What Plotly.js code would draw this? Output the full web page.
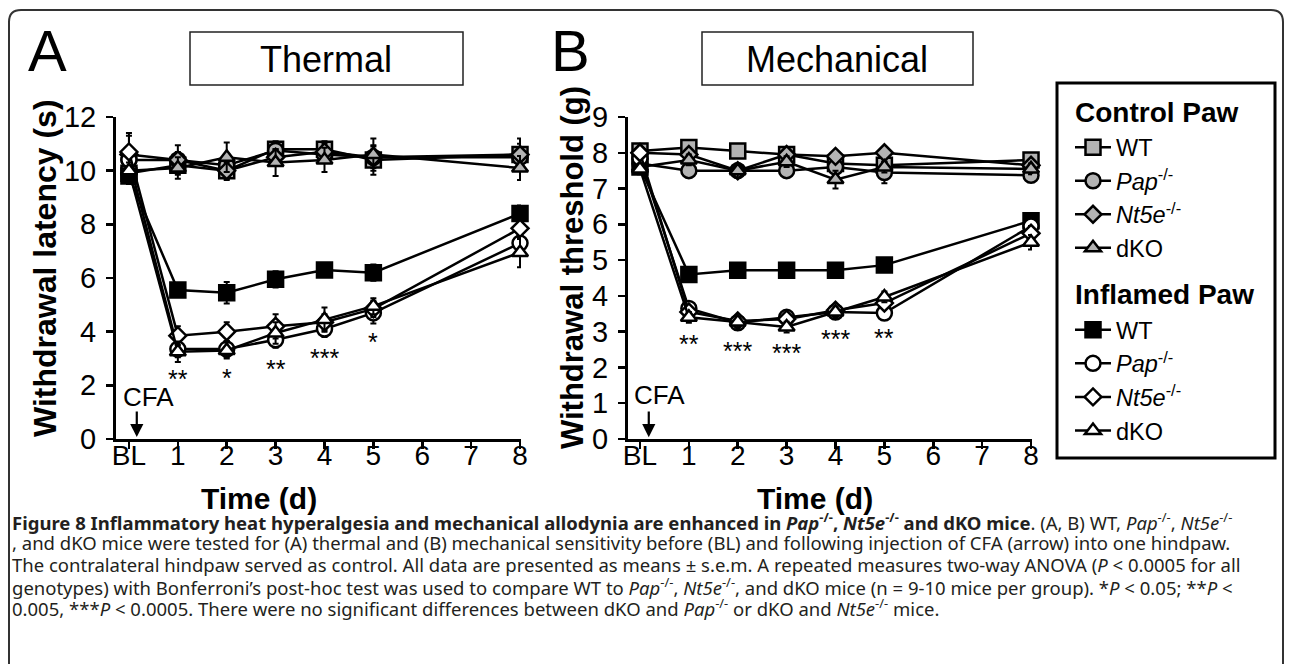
<!DOCTYPE html>
<html>
<head>
<meta charset="utf-8">
<script src="https://cdn.plot.ly/plotly-3.0.1.min.js"></script>
<style>html,body{margin:0;padding:0;background:#fff;}#chart{width:1290px;height:664px;}</style>
</head>
<body>
<div id="chart"></div>
<script>
// ---------------- DATA ----------------
const days = [0, 1, 2, 3, 4, 5, 8];
const tickVals = [0, 1, 2, 3, 4, 5, 6, 7, 8];
const tickLabels = ['BL', '1', '2', '3', '4', '5', '6', '7', '8'];
const groupNames = ['WT', '<i>Pap</i><sup>-/-</sup>', '<i>Nt5e</i><sup>-/-</sup>', 'dKO'];

// Panel A: thermal withdrawal latency (s)
const thermCtrlWT   = [9.9, 10.2, 10.0, 10.8, 10.8, 10.4, 10.6];
const thermCtrlPap  = [10.4, 10.4, 10.2, 10.75, 10.6, 10.5, 10.5];
const thermCtrlNt5e = [10.6, 10.4, 10.0, 10.5, 10.7, 10.5, 10.6];
const thermCtrlDKO  = [10.0, 10.1, 10.5, 10.3, 10.4, 10.6, 10.1];
const thermInfWT    = [9.8, 5.55, 5.45, 5.95, 6.3, 6.2, 8.4];
const thermInfPap   = [10.4, 3.35, 3.35, 3.7, 4.1, 4.7, 7.3];
const thermInfNt5e  = [10.7, 3.85, 4.0, 4.2, 4.35, 4.85, 7.85];
const thermInfDKO   = [10.0, 3.25, 3.3, 3.95, 4.45, 4.95, 6.95];
const thermCtrlWTErr   = [0.3, 0.3, 0.35, 0.3, 0.3, 0.55, 0.6];
const thermCtrlPapErr  = [0.3, 0.3, 0.3, 0.3, 0.3, 0.3, 0.3];
const thermCtrlNt5eErr = [0.7, 0.55, 0.3, 0.3, 0.3, 0.4, 0.4];
const thermCtrlDKOErr  = [0.3, 0.4, 0.55, 0.5, 0.45, 0.6, 0.45];
const thermInfWTErr    = [0.3, 0.25, 0.4, 0.3, 0.25, 0.3, 0.3];
const thermInfPapErr   = [0.3, 0.3, 0.3, 0.3, 0.3, 0.4, 0.45];
const thermInfNt5eErr  = [0.7, 0.35, 0.35, 0.45, 0.3, 0.3, 0.4];
const thermInfDKOErr   = [0.3, 0.38, 0.3, 0.4, 0.45, 0.3, 0.55];

// Panel B: mechanical withdrawal threshold (g)
const mechCtrlWT   = [8.05, 8.15, 8.05, 7.95, 7.7, 7.65, 7.8];
const mechCtrlPap  = [7.7, 7.5, 7.5, 7.5, 7.6, 7.45, 7.37];
const mechCtrlNt5e = [8.0, 7.95, 7.5, 7.95, 7.9, 8.0, 7.65];
const mechCtrlDKO  = [7.6, 7.8, 7.5, 7.75, 7.25, 7.6, 7.55];
const mechInfWT    = [7.6, 4.6, 4.72, 4.72, 4.72, 4.86, 6.1];
const mechInfPap   = [7.85, 3.65, 3.25, 3.4, 3.55, 3.52, 5.95];
const mechInfNt5e  = [8.0, 3.55, 3.3, 3.35, 3.6, 3.8, 5.75];
const mechInfDKO   = [7.55, 3.4, 3.27, 3.13, 3.55, 3.97, 5.5];
const mechCtrlWTErr   = [0.15, 0.15, 0.15, 0.15, 0.15, 0.15, 0.15];
const mechCtrlPapErr  = [0.15, 0.15, 0.15, 0.15, 0.15, 0.3, 0.15];
const mechCtrlNt5eErr = [0.15, 0.15, 0.15, 0.15, 0.15, 0.15, 0.15];
const mechCtrlDKOErr  = [0.15, 0.15, 0.2, 0.15, 0.25, 0.15, 0.15];
const mechInfWTErr    = [0.15, 0.15, 0.1, 0.1, 0.1, 0.1, 0.15];
const mechInfPapErr   = [0.15, 0.15, 0.15, 0.15, 0.15, 0.15, 0.2];
const mechInfNt5eErr  = [0.15, 0.15, 0.15, 0.15, 0.15, 0.15, 0.2];
const mechInfDKOErr   = [0.15, 0.15, 0.15, 0.15, 0.15, 0.15, 0.2];

// significance marks (x day, y position in data units, label)
const thermStarX = [1, 2, 3, 4, 5];
const thermStarY = [2.45, 2.5, 2.84, 3.25, 3.84];
const thermStarText = ['**', '*', '**', '***', '*'];
const mechStarX = [1, 2, 3, 4, 5];
const mechStarY = [2.82, 2.63, 2.57, 2.96, 2.99];
const mechStarText = ['**', '***', '***', '***', '**'];

// ---------------- STYLE ----------------
const W = 1290, H = 664;
const px = v => v / W;
const py = v => 1 - v / H;
const GRAY = '#b3b3b3';
const FONT = 'Liberation Sans, Arial, sans-serif';
const symbols = ['square', 'circle', 'diamond', 'triangle-up'];
const sizes = [15, 15, 13, 14];

function mk(x, y, err, i, fill, xa, ya, group, groupTitle, showlegend) {
  return {
    x: x, y: y, xaxis: xa, yaxis: ya, type: 'scatter', mode: 'lines+markers',
    name: groupNames[i], legendgroup: group,
    legendgrouptitle: {text: groupTitle, font: {family: FONT, size: 28, color: '#000'}},
    showlegend: showlegend,
    line: {color: '#000', width: 2.5},
    marker: {symbol: symbols[i], size: sizes[i], color: fill, line: {color: '#000', width: 2.5}},
    error_y: {type: 'data', array: err, visible: true, color: '#000', thickness: 2, width: 3},
    cliponaxis: false, hoverinfo: 'x+y'
  };
}

const ctrlT = '<b>Control Paw</b>', infT = '<b>Inflamed Paw</b>';
const infFill = ['#000', '#fff', '#fff', '#fff'];
const traces = [
  mk(days, thermCtrlWT, thermCtrlWTErr, 0, GRAY, 'x', 'y', 'ctrl', ctrlT, true),
  mk(days, thermCtrlPap, thermCtrlPapErr, 1, GRAY, 'x', 'y', 'ctrl', ctrlT, true),
  mk(days, thermCtrlNt5e, thermCtrlNt5eErr, 2, GRAY, 'x', 'y', 'ctrl', ctrlT, true),
  mk(days, thermCtrlDKO, thermCtrlDKOErr, 3, GRAY, 'x', 'y', 'ctrl', ctrlT, true),
  mk(days, thermInfWT, thermInfWTErr, 0, infFill[0], 'x', 'y', 'inf', infT, true),
  mk(days, thermInfPap, thermInfPapErr, 1, infFill[1], 'x', 'y', 'inf', infT, true),
  mk(days, thermInfNt5e, thermInfNt5eErr, 2, infFill[2], 'x', 'y', 'inf', infT, true),
  mk(days, thermInfDKO, thermInfDKOErr, 3, infFill[3], 'x', 'y', 'inf', infT, true),
  mk(days, mechCtrlWT, mechCtrlWTErr, 0, GRAY, 'x2', 'y2', 'ctrl', ctrlT, false),
  mk(days, mechCtrlPap, mechCtrlPapErr, 1, GRAY, 'x2', 'y2', 'ctrl', ctrlT, false),
  mk(days, mechCtrlNt5e, mechCtrlNt5eErr, 2, GRAY, 'x2', 'y2', 'ctrl', ctrlT, false),
  mk(days, mechCtrlDKO, mechCtrlDKOErr, 3, GRAY, 'x2', 'y2', 'ctrl', ctrlT, false),
  mk(days, mechInfWT, mechInfWTErr, 0, infFill[0], 'x2', 'y2', 'inf', infT, false),
  mk(days, mechInfPap, mechInfPapErr, 1, infFill[1], 'x2', 'y2', 'inf', infT, false),
  mk(days, mechInfNt5e, mechInfNt5eErr, 2, infFill[2], 'x2', 'y2', 'inf', infT, false),
  mk(days, mechInfDKO, mechInfDKOErr, 3, infFill[3], 'x2', 'y2', 'inf', infT, false)
];

function xAxis(dom, range, anchor) {
  return {
    domain: dom, range: range, anchor: anchor, tickmode: 'array', tickvals: tickVals, ticktext: tickLabels,
    showline: true, linecolor: '#000', linewidth: 3, ticks: 'outside', ticklen: 7, tickwidth: 2.5,
    tickcolor: '#000', showgrid: false, zeroline: false, ticklabelstandoff: -18,
    tickfont: {family: FONT, size: 28, color: '#000'}, fixedrange: true
  };
}
function yAxis(dom, range, dtick, anchor) {
  return {
    domain: dom, range: range, anchor: anchor, dtick: dtick, tick0: 0,
    showline: true, linecolor: '#000', linewidth: 3, ticks: 'outside', ticklen: 7, tickwidth: 2.5,
    tickcolor: '#000', showgrid: false, zeroline: false, ticklabelstandoff: 4,
    tickfont: {family: FONT, size: 29, color: '#000'}, fixedrange: true
  };
}

const ann = [];
function txt(x, y, text, size, opts) {
  return Object.assign({xref: 'paper', yref: 'paper', x: px(x), y: py(y), text: text, showarrow: false,
    font: {family: FONT, size: size, color: '#000'}, xanchor: 'center', yanchor: 'middle'}, opts || {});
}
ann.push(txt(47, 50, 'A', 58));
ann.push(txt(570, 50, 'B', 58));
ann.push(txt(326, 59, 'Thermal', 36));
ann.push(txt(837, 59, 'Mechanical', 36));
ann.push(txt(45, 268, '<b>Withdrawal latency (s)</b>', 32, {textangle: -90}));
ann.push(txt(572, 268, '<b>Withdrawal threshold (g)</b>', 31, {textangle: -90}));
const narrowBold = {family: 'Liberation Sans Narrow, Liberation Sans, Arial', size: 30, color: '#000'};
ann.push(txt(259, 498, '<b>Time (d)</b>', 30, {font: narrowBold}));
ann.push(txt(815, 498, '<b>Time (d)</b>', 30, {font: narrowBold}));

// CFA arrows
ann.push({xref: 'x', yref: 'y', x: 0.4, y: 1.57, text: 'CFA', showarrow: false, font: {family: FONT, size: 26, color: '#000'}});
ann.push({xref: 'x', yref: 'y', axref: 'x', ayref: 'y', x: 0.16, y: 0.07, ax: 0.16, ay: 1.08, text: '', showarrow: true,
  arrowhead: 2, arrowsize: 1.2, arrowwidth: 2.2, arrowcolor: '#000'});
ann.push({xref: 'x2', yref: 'y2', x: 0.39, y: 1.23, text: 'CFA', showarrow: false, font: {family: FONT, size: 26, color: '#000'}});
ann.push({xref: 'x2', yref: 'y2', axref: 'x2', ayref: 'y2', x: 0.18, y: 0.05, ax: 0.18, ay: 0.81, text: '', showarrow: true,
  arrowhead: 2, arrowsize: 1.2, arrowwidth: 2.2, arrowcolor: '#000'});

// significance stars
thermStarX.forEach((d, i) => ann.push({xref: 'x', yref: 'y', x: d, y: thermStarY[i], text: thermStarText[i], showarrow: false,
  yshift: -6, font: {family: FONT, size: 25, color: '#000'}}));
mechStarX.forEach((d, i) => ann.push({xref: 'x2', yref: 'y2', x: d, y: mechStarY[i], text: mechStarText[i], showarrow: false,
  yshift: -6, font: {family: FONT, size: 25, color: '#000'}}));

// caption
const capFont = {family: 'Noto Sans, Open Sans, sans-serif', size: 18.5, color: '#231f20'};
const PAP = '<i>Pap</i><sup>-/-</sup>', NT = '<i>Nt5e</i><sup>-/-</sup>';
const captionLines = [
  '<b>Figure 8 Inflammatory heat hyperalgesia and mechanical allodynia are enhanced in ' + PAP + ', ' + NT + ' and dKO mice</b>. (A, B) WT, ' + PAP + ', ' + NT,
  ', and dKO mice were tested for (A) thermal and (B) mechanical sensitivity before (BL) and following injection of CFA (arrow) into one hindpaw.',
  'The contralateral hindpaw served as control. All data are presented as means ± s.e.m. A repeated measures two-way ANOVA (<i>P</i> &lt; 0.0005 for all',
  'genotypes) with Bonferroni\u2019s post-hoc test was used to compare WT to ' + PAP + ', ' + NT + ', and dKO mice (n = 9-10 mice per group). *<i>P</i> &lt; 0.05; **<i>P</i> &lt;',
  '0.005, ***<i>P</i> &lt; 0.0005. There were no significant differences between dKO and ' + PAP + ' or dKO and ' + NT + ' mice.'
];
const capY = [521, 542, 564, 586, 607];
captionLines.forEach((t, i) => ann.push(txt(10, capY[i], t, 18.5, {xanchor: 'left', font: capFont})));

const shapes = [
  {type: 'path', xref: 'paper', yref: 'paper',
   path: `M ${px(9)} ${py(670)} L ${px(9)} ${py(22)} Q ${px(9)} ${py(10)} ${px(21)} ${py(10)} L ${px(1271)} ${py(10)} Q ${px(1283)} ${py(10)} ${px(1283)} ${py(22)} L ${px(1283)} ${py(670)}`,
   line: {color: '#333', width: 2}},
  {type: 'rect', xref: 'paper', yref: 'paper', x0: px(190), x1: px(463), y0: py(85), y1: py(32), line: {color: '#222', width: 1.5}},
  {type: 'rect', xref: 'paper', yref: 'paper', x0: px(702), x1: px(973), y0: py(85), y1: py(32), line: {color: '#222', width: 1.5}},
  {type: 'rect', xref: 'paper', yref: 'paper', x0: px(1057), x1: px(1275), y0: py(458), y1: py(83), line: {color: '#000', width: 3}}
];

const layout = {
  width: W, height: H, margin: {l: 0, r: 0, t: 0, b: 0},
  paper_bgcolor: '#fff', plot_bgcolor: 'rgba(0,0,0,0)',
  font: {family: FONT, color: '#000'},
  xaxis: xAxis([px(116), px(521)], [-0.265, 8.02], 'y'),
  yaxis: yAxis([py(439), py(117)], [0, 12], 2, 'x'),
  xaxis2: xAxis([px(628), px(1032)], [-0.245, 8.02], 'y2'),
  yaxis2: yAxis([py(439), py(117)], [0, 9], 1, 'x2'),
  showlegend: true,
  legend: {x: px(1070), y: py(86), xanchor: 'left', yanchor: 'top', traceorder: 'grouped', tracegroupgap: 9,
    font: {family: FONT, size: 23.5, color: '#000'}, bgcolor: 'rgba(0,0,0,0)', borderwidth: 0, itemwidth: 36},
  annotations: ann, shapes: shapes
};

Plotly.newPlot('chart', traces, layout, {staticPlot: true, displayModeBar: false});
</script>
</body>
</html>
